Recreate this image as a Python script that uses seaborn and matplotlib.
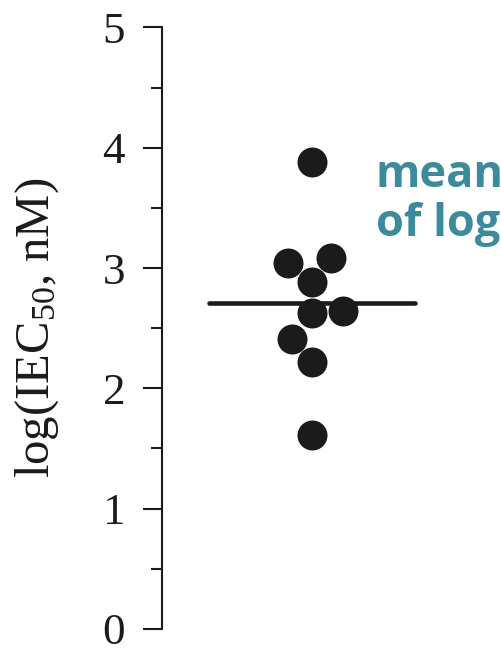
import matplotlib
matplotlib.use("Agg")
import matplotlib.pyplot as plt
from matplotlib.ticker import MultipleLocator
import numpy as np
import pandas as pd
import seaborn as sns

# log10 IC50 values (nM) for the nine compounds
log_ic50 = [3.88, 3.08, 3.04, 2.88, 2.63, 2.64, 2.41, 2.22, 1.61]
group = ["all"] * len(log_ic50)
y_ticks = [0, 1, 2, 3, 4, 5]
note_lines = ["mean", "of log"]

df = pd.DataFrame({"group": group, "log_ic50": log_ic50})
mean_val = float(np.mean(df["log_ic50"]))

sns.set_theme(style="ticks")
plt.rcParams["font.family"] = ["Liberation Serif", "DejaVu Serif"]
plt.rcParams["mathtext.fontset"] = "custom"
plt.rcParams["mathtext.rm"] = "Liberation Serif"
plt.rcParams["mathtext.it"] = "Liberation Serif:italic"

ink = "#1b1b1b"
fig = plt.figure(figsize=(5.02, 6.51), dpi=100)
ax = fig.add_axes([0.3227, 0.0338, 0.6773, 0.9242])

sns.swarmplot(data=df, x="group", y="log_ic50", ax=ax, color=ink,
              size=21.6, linewidth=0)

ax.set_xlim(-0.75, 0.95)
ax.hlines(mean_val, -0.515, 0.515, color=ink, lw=3.3, capstyle="round",
          zorder=4)

ax.set_ylim(0, 5)
ax.set_yticks(y_ticks)
ax.yaxis.set_minor_locator(MultipleLocator(0.5))
ax.set_xticks([])
ax.set_xlabel("")
for s in ["top", "right", "bottom"]:
    ax.spines[s].set_visible(False)
ax.spines["left"].set_linewidth(1.5)
ax.spines["left"].set_color(ink)
ax.tick_params(axis="y", which="major", length=13.5, width=1.5, color=ink,
               labelsize=32.5, pad=13, labelcolor=ink)
ax.tick_params(axis="y", which="minor", length=8, width=1.5, color=ink)
ax.set_ylabel("log(IEC$_{50}$, nM)", fontsize=35, color=ink, labelpad=30)
ax.patch.set_alpha(0)

teal = "#3b8b9d"
fig.text(376 / 502, 1 - 186.7 / 651, note_lines[0], color=teal,
         fontsize=32.5, fontweight="bold", family="Open Sans", va="baseline")
fig.text(376 / 502, 1 - 236 / 651, note_lines[1], color=teal,
         fontsize=32.5, fontweight="bold", family="Open Sans", va="baseline")

fig.savefig("out.png", dpi=100)
